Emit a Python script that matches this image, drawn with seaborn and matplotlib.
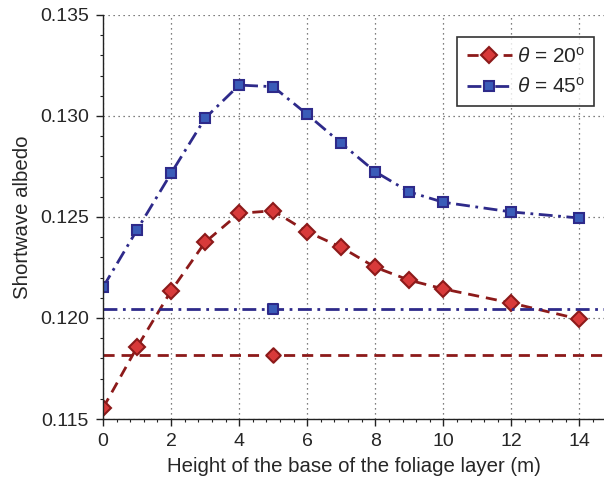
import matplotlib
matplotlib.use("Agg")
import matplotlib.pyplot as plt
import seaborn as sns
import pandas as pd
from matplotlib.ticker import MultipleLocator

heights = [0, 1, 2, 3, 4, 5, 6, 7, 8, 9, 10, 12, 14]
albedo_20 = [0.11554, 0.11855, 0.12134, 0.12375, 0.12518, 0.12531, 0.12427,
             0.12350, 0.12251, 0.12187, 0.12144, 0.12074, 0.11994]
albedo_45 = [0.12152, 0.12436, 0.12716, 0.12989, 0.13153, 0.13145, 0.13008,
             0.12865, 0.12724, 0.12624, 0.12573, 0.12525, 0.12495]
ref_20 = 0.11818
ref_45 = 0.12046
ref_x = 5
labels = [r"$\theta$ = 20$^{\mathrm{o}}$", r"$\theta$ = 45$^{\mathrm{o}}$"]

sns.set_style("white")
plt.rcParams['font.family'] = ['Liberation Sans', 'DejaVu Sans']
plt.rcParams['mathtext.fontset'] = 'custom'
plt.rcParams['mathtext.rm'] = 'Liberation Sans'
plt.rcParams['mathtext.it'] = 'Liberation Sans:italic'

fig = plt.figure(figsize=(6.04, 4.82), dpi=100)
ax = fig.add_axes([0.1705, 0.1307, 0.8295, 0.8382])

red_line = "#8c1a1a"
red_face = "#d83a3a"
blue_line = "#2e2a8a"
blue_face = "#3a5cb8"
red_dash = (0, (4, 2.5))
blue_dash = (0, (5, 2, 1, 2))

df20 = pd.DataFrame({"x": heights, "y": albedo_20})
df45 = pd.DataFrame({"x": heights, "y": albedo_45})

sns.lineplot(data=df20, x="x", y="y", ax=ax, color=red_line, lw=2,
             linestyle=red_dash, marker="D", markersize=8,
             markerfacecolor=red_face, markeredgecolor=red_line, markeredgewidth=1.5,
             label=labels[0])
sns.lineplot(data=df45, x="x", y="y", ax=ax, color=blue_line, lw=2,
             linestyle=blue_dash, marker="s", markersize=7.5,
             markerfacecolor=blue_face, markeredgecolor=blue_line, markeredgewidth=1.5,
             label=labels[1])

ax.axhline(ref_20, color=red_line, lw=2, linestyle=red_dash, zorder=2)
ax.axhline(ref_45, color=blue_line, lw=2, linestyle=blue_dash, zorder=2)
sns.scatterplot(x=[ref_x], y=[ref_20], ax=ax, marker="D", s=55, color=red_face,
                edgecolor=red_line, linewidth=1.5, zorder=3)
sns.scatterplot(x=[ref_x], y=[ref_45], ax=ax, marker="s", s=55, color=blue_face,
                edgecolor=blue_line, linewidth=1.5, zorder=3)

ax.set_xlim(0, 14.72)
ax.set_ylim(0.115, 0.135)
ax.set_xticks([0, 2, 4, 6, 8, 10, 12, 14])
ax.set_yticks([0.115, 0.120, 0.125, 0.130, 0.135])
ax.set_yticklabels(["0.115", "0.120", "0.125", "0.130", "0.135"])
ax.xaxis.set_minor_locator(MultipleLocator(0.4))
ax.yaxis.set_minor_locator(MultipleLocator(0.001))
ax.tick_params(which="major", direction="out", length=5, width=1, labelsize=14,
               color="#222222", pad=5)
ax.tick_params(which="minor", direction="out", length=2.5, width=0.8, color="#222222")
ax.tick_params(axis="x", which="both", bottom=True)
ax.tick_params(axis="y", which="both", left=True)

ax.grid(True, which="major", linestyle=(0, (1, 3)), color="#555555", lw=0.9)
for s in ["top", "right"]:
    ax.spines[s].set_visible(False)
for s in ["left", "bottom"]:
    ax.spines[s].set_color("#222222")
    ax.spines[s].set_linewidth(1.0)

ax.set_xlabel("Height of the base of the foliage layer (m)", fontsize=14.7, labelpad=5)
ax.set_ylabel("Shortwave albedo", fontsize=14.7, labelpad=6)

leg = ax.legend(loc="upper right", bbox_to_anchor=(0.98, 0.9455), fontsize=15,
                frameon=True, fancybox=False, edgecolor="black", handlelength=2.2,
                borderpad=0.45, labelspacing=0.5, handletextpad=0.2, borderaxespad=0)
leg.get_frame().set_linewidth(1.2)

fig.savefig("out.png", dpi=100)
